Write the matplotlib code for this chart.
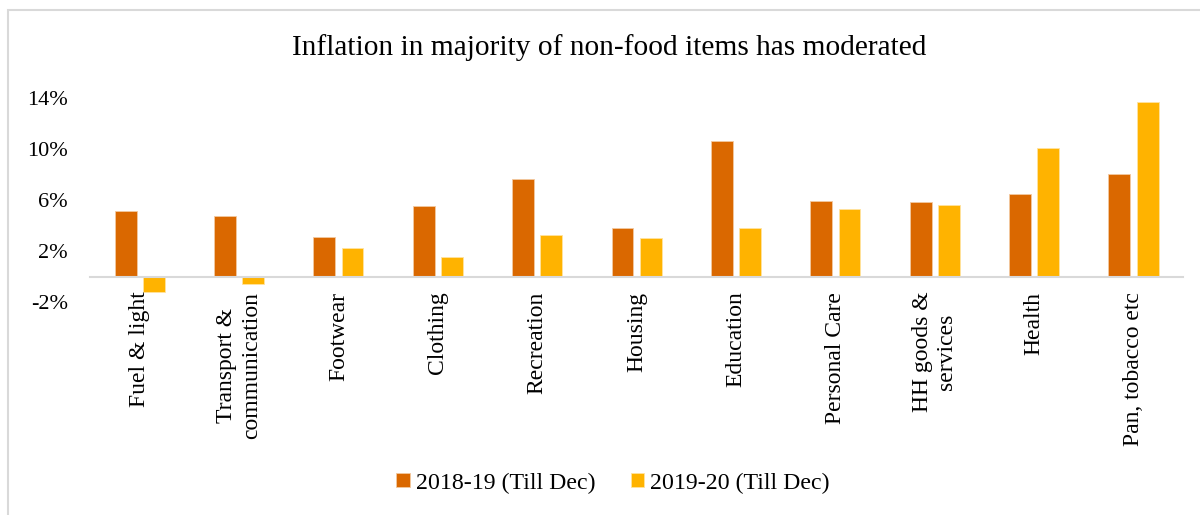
import matplotlib.pyplot as plt
import matplotlib.patches as mpatches
import numpy as np

categories = ['Fuel & light', 'Transport &\ncommunication', 'Footwear', 'Clothing',
              'Recreation', 'Housing', 'Education', 'Personal Care',
              'HH goods &\nservices', 'Health', 'Pan, tobacco etc']
infl_2018_19 = [5.18, 4.74, 3.12, 5.57, 7.67, 3.82, 10.63, 5.94, 5.89, 6.51, 8.08]
infl_2019_20 = [-1.22, -0.57, 2.25, 1.57, 3.25, 3.04, 3.85, 5.29, 5.63, 10.1, 13.69]
series_labels = ['2018-19 (Till Dec)', '2019-20 (Till Dec)']
y_ticks = [-2, 2, 6, 10, 14]

orange = '#DA6800'
yellow = '#FFB300'

plt.rcParams['font.family'] = ['Liberation Serif', 'DejaVu Serif']

fig = plt.figure(figsize=(12, 5.15), dpi=100)
ax = fig.add_axes([0.075, 0.4132, 0.911, 0.3958])

# x axis line crosses at zero, as in the original spreadsheet chart
for s in ['top', 'right', 'left']:
    ax.spines[s].set_visible(False)
ax.spines['bottom'].set_position(('data', 0))
ax.spines['bottom'].set_color('#D9D9D9')
ax.spines['bottom'].set_linewidth(1.5)

x = np.arange(len(categories))
w = 0.22
off = 0.142
b1 = ax.bar(x - off, infl_2018_19, w, color=orange, edgecolor='#F3C9A0', linewidth=0.6,
            label=series_labels[0])
b2 = ax.bar(x + off, infl_2019_20, w, color=yellow, edgecolor='#FFE3A0', linewidth=0.6,
            label=series_labels[1])

ax.set_xlim(-0.5, len(categories) - 0.5)
ax.set_ylim(-2, 14)
ax.set_yticks(y_ticks)
ax.set_yticklabels([f'{v}%' for v in y_ticks])
ax.tick_params(axis='y', length=0, pad=16, labelsize=16)

ax.set_xticks(x)
ax.set_xticklabels(categories)
ax.tick_params(axis='x', length=0, pad=10.8, labelsize=17, labelrotation=90)
for lab in ax.get_xticklabels():
    lab.set_multialignment('center')
    lab.set_va('top')
    lab.set_ha('center')

fig.text(609 / 1200, 1 - 48 / 515, 'Inflation in majority of non-food items has moderated',
         ha='center', va='center', fontsize=21.2)

fig.legend(handles=[b1, b2], loc='center', bbox_to_anchor=(613 / 1200, 1 - 483 / 515),
           ncol=2, frameon=False, fontsize=17.2, handlelength=0.55, handleheight=0.55,
           handletextpad=0.25, columnspacing=1.5)

border = mpatches.Rectangle((8 / 1200, -0.1), 1.1, 0.9806 + 0.1, transform=fig.transFigure,
                            fill=False, edgecolor='#D9D9D9', linewidth=1.5)
fig.add_artist(border)

fig.savefig('out.png', dpi=100)
